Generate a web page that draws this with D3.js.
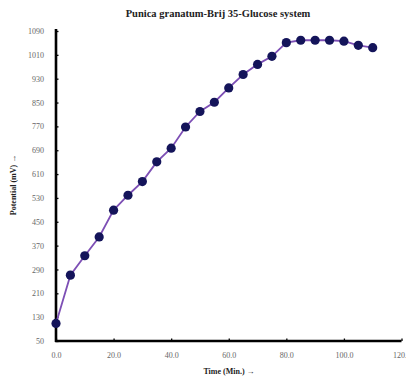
<!DOCTYPE html>
<html><head><meta charset="utf-8">
<script src="https://cdn.jsdelivr.net/npm/d3@7"></script>
<style>html,body{margin:0;padding:0;background:#fff;}svg{display:block;}</style>
</head><body>
<svg id="c" width="406" height="379"></svg>
<script>
const title = "Punica granatum-Brij 35-Glucose system";
const xLabel = "Time (Min.) →";
const yLabel = "Potential (mV) →";
const times = [0,5,10,15,20,25,30,35,40,45,50,55,60,65,70,75,80,85,90,95,100,105,110];
const potentials = [109,271,336,399,489,539,585,651,697,768,820,851,899,944,978,1005,1051,1059,1059,1059,1056,1042,1034];
const xTicks = [0,20,40,60,80,100,120];
const yTicks = [50,130,210,290,370,450,530,610,690,770,850,930,1010,1090];

const svg = d3.select("#c");
const x = d3.scaleLinear().domain([0,120]).range([56,401.5]);
const y = d3.scaleLinear().domain([50,1090]).range([341,31]);
const serif = "'Liberation Serif','DejaVu Serif',serif";

svg.append("text").attr("x",218).attr("y",17).attr("text-anchor","middle")
  .attr("font-family",serif).attr("font-weight","bold").attr("font-size",10.5).attr("fill","#222").text(title);

const ya = svg.append("g").attr("transform","translate(56,0)")
  .call(d3.axisLeft(y).tickValues(yTicks).tickSize(-2.5).tickPadding(12).tickFormat(d3.format("d")));
ya.select(".domain").attr("stroke","#000").attr("stroke-width",2.6).attr("d","M0,"+(y(1090)-2)+"V"+(y(50)+1));
ya.selectAll(".tick line").attr("stroke","#000").attr("stroke-width",1.3);
ya.selectAll(".tick text").attr("font-family",serif).attr("font-size",8).attr("fill","#666");

const xa = svg.append("g").attr("transform","translate(0,341)")
  .call(d3.axisBottom(x).tickValues(xTicks).tickSize(-2.5).tickPadding(11).tickFormat(d3.format(".1f")));
xa.select(".domain").attr("stroke","#000").attr("stroke-width",2.6).attr("d","M"+(x(0)-1)+",0H"+x(120));
xa.selectAll(".tick line").attr("stroke","#000").attr("stroke-width",1.3);
xa.selectAll(".tick text").attr("font-family",serif).attr("font-size",8).attr("fill","#666");

svg.append("text").attr("x",229).attr("y",374).attr("text-anchor","middle")
  .attr("font-family",serif).attr("font-weight","bold").attr("font-size",8).attr("fill","#222").text(xLabel);
svg.append("text").attr("transform","translate(16,185) rotate(-90)").attr("text-anchor","middle")
  .attr("font-family",serif).attr("font-weight","bold").attr("font-size",8).attr("fill","#222").text(yLabel);

const data = times.map((t,i)=>({t, v: potentials[i]}));
svg.append("path").datum(data)
  .attr("d", d3.line().x(d=>x(d.t)).y(d=>y(d.v)))
  .attr("fill","none").attr("stroke","#7d4fb5").attr("stroke-width",1.8);
svg.append("g").selectAll("circle").data(data).join("circle")
  .attr("cx",d=>x(d.t)).attr("cy",d=>y(d.v)).attr("r",4.6)
  .attr("fill","#14145a");
</script>
</body></html>
